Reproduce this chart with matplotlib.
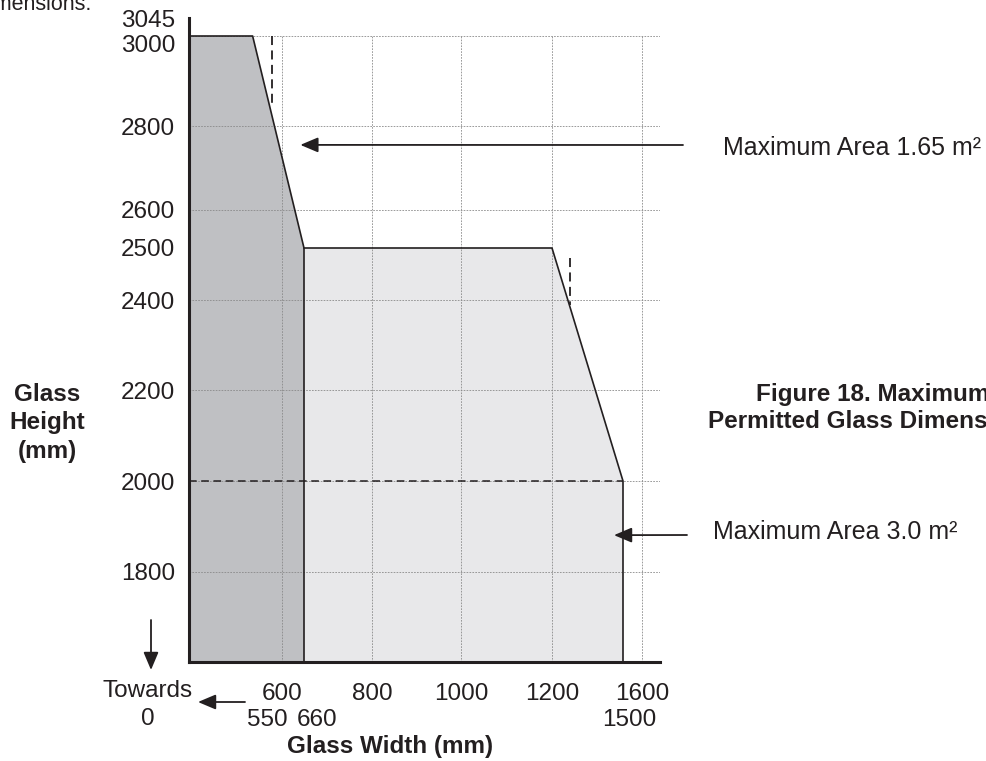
import numpy as np
import matplotlib
matplotlib.use("Agg")
import matplotlib.pyplot as plt
from matplotlib.transforms import ScaledTranslation

plt.rcParams["font.family"] = ["Liberation Sans", "DejaVu Sans"]

# outline of the two permitted areas (width mm, height mm)
small_w = [400, 400, 515, 660, 660]
small_h = [1600, 3000, 3000, 2500, 1600]
large_w = [660, 660, 1200, 1500, 1500]
large_h = [1600, 2500, 2500, 2000, 1600]

# dashed guide lines
guide_550 = ([550, 550], [3000, 2840])
guide_1275 = ([1275, 1275], [2480, 2390])
guide_2000 = ([400, 1500], [2000, 2000])

# ticks and grid
y_ticks = [1800, 2000, 2200, 2400, 2500, 2600, 2800, 3000, 3045]
x_ticks = [600, 800, 1000, 1200, 1600]
x_ticks_2 = [550, 660, 1500]
y_grid = [1800, 2000, 2200, 2400, 2600, 2800, 3000]
x_grid = [600, 800, 1000, 1200, 1600]

# the drawing is schematic, so the axes are piecewise
x_knots = [400, 550, 600, 660, 800, 1000, 1200, 1500, 1600, 1700]
x_pos = [0, 83, 93, 115, 183, 272, 363, 434, 453, 471]
y_knots = [1600, 1800, 2000, 2200, 2400, 2500, 2600, 2800, 3000, 3045]
y_pos = [0, 90, 181, 272, 362, 414, 452, 536, 626, 644]

W, H = 986, 761
ink = "#231f20"


def fx(x):
    return x / W


def fy(y):
    return 1 - y / H


fig = plt.figure(figsize=(W / 100, H / 100), dpi=100)
ax = fig.add_axes([fx(189), fy(662), (660 - 189) / W, (662 - 18) / H])

ax.set_xscale("function", functions=(lambda v: np.interp(v, x_knots, x_pos),
                                     lambda p: np.interp(p, x_pos, x_knots)))
ax.set_yscale("function", functions=(lambda v: np.interp(v, y_knots, y_pos),
                                     lambda p: np.interp(p, y_pos, y_knots)))
ax.set_xlim(400, 1700)
ax.set_ylim(1600, 3045)

ax.fill(small_w, small_h, color="#bfc0c3", lw=0, zorder=1)
ax.fill(large_w, large_h, color="#e8e8ea", lw=0, zorder=1)

# grid
ax.hlines(y_grid, 400, 1700, colors="#8a8a8a", lw=0.6, linestyles=(0, (2, 1.5)), zorder=2)
ax.vlines(x_grid, 1600, 3000, colors="#8a8a8a", lw=0.6, linestyles=(0, (2, 1.5)), zorder=2)

# outlines
ax.plot(small_w[1:], small_h[1:], color=ink, lw=1.2, zorder=4)
ax.plot(large_w[1:], large_h[1:], color=ink, lw=1.2, zorder=4)

ax.plot(*guide_550, color=ink, lw=1.3, ls=(0, (5, 3)), zorder=3)
ax.plot(*guide_1275, color=ink, lw=1.3, ls=(0, (5, 3)), zorder=3)
ax.plot(*guide_2000, color=ink, lw=1.1, ls=(0, (5, 3)), zorder=3)

for s in ["top", "right"]:
    ax.spines[s].set_visible(False)
for s in ["left", "bottom"]:
    ax.spines[s].set_linewidth(2.2)
    ax.spines[s].set_color(ink)

ax.set_yticks(y_ticks, [str(v) for v in y_ticks])
ax.set_xticks(x_ticks, [str(v) for v in x_ticks])
ax.set_xticks(x_ticks_2, [str(v) for v in x_ticks_2], minor=True)
ax.tick_params(which="both", length=0, labelsize=17.5, labelcolor=ink)
ax.tick_params(axis="y", pad=10)
ax.tick_params(axis="x", which="major", pad=15)
ax.tick_params(axis="x", which="minor", pad=34)


def shift(label, dx, dy):
    label.set_transform(label.get_transform()
                        + ScaledTranslation(dx / 100, dy / 100, fig.dpi_scale_trans))


shift(ax.get_yticklabels()[7], 0, -7)
minor_labels = ax.get_xticklabels(minor=True)
shift(minor_labels[0], -5, 0)
shift(minor_labels[1], 13, 0)
shift(minor_labels[2], 6, 0)

# axis titles
fig.text(fx(47), fy(423), "Glass\nHeight\n(mm)", ha="center", va="center",
         fontsize=17.5, fontweight="bold", color=ink, linespacing=1.3)
fig.text(fx(390), fy(747), "Glass Width (mm)", ha="center", va="center",
         fontsize=17.5, fontweight="bold", color=ink)
fig.text(fx(148), fy(705), "Towards\n0", ha="center", va="center",
         fontsize=17.5, color=ink, linespacing=1.3)
fig.text(fx(92), fy(10), "dimensions.", ha="right", va="baseline",
         fontsize=15.5, color=ink)

fig.text(fx(873), fy(408), "Figure 18. Maximum\nPermitted Glass Dimensions",
         ha="center", va="center", fontsize=17.5, fontweight="bold", color=ink,
         linespacing=1.2)
fig.text(fx(723), fy(148), "Maximum Area 1.65 m²", ha="left", va="center",
         fontsize=18, color=ink)
fig.text(fx(713), fy(532), "Maximum Area 3.0 m²", ha="left", va="center",
         fontsize=18, color=ink)

arrow = dict(arrowstyle="-|>,head_length=0.9,head_width=0.38", mutation_scale=12,
             color=ink, lw=1.3, shrinkA=0, shrinkB=0)
ax.annotate("", xy=(650, 2755), xycoords="data",
            xytext=(fx(683), fy(145)), textcoords="figure fraction",
            arrowprops=arrow, annotation_clip=False)
ax.annotate("", xy=(1462, 1881), xycoords="data",
            xytext=(fx(687), fy(535)), textcoords="figure fraction",
            arrowprops=arrow, annotation_clip=False)
ax.annotate("", xy=(fx(151), fy(670)), xycoords="figure fraction",
            xytext=(fx(151), fy(620)), textcoords="figure fraction",
            arrowprops=arrow, annotation_clip=False)
ax.annotate("", xy=(fx(198), fy(702)), xycoords="figure fraction",
            xytext=(fx(245), fy(702)), textcoords="figure fraction",
            arrowprops=arrow, annotation_clip=False)

fig.savefig("out.png", dpi=100)
